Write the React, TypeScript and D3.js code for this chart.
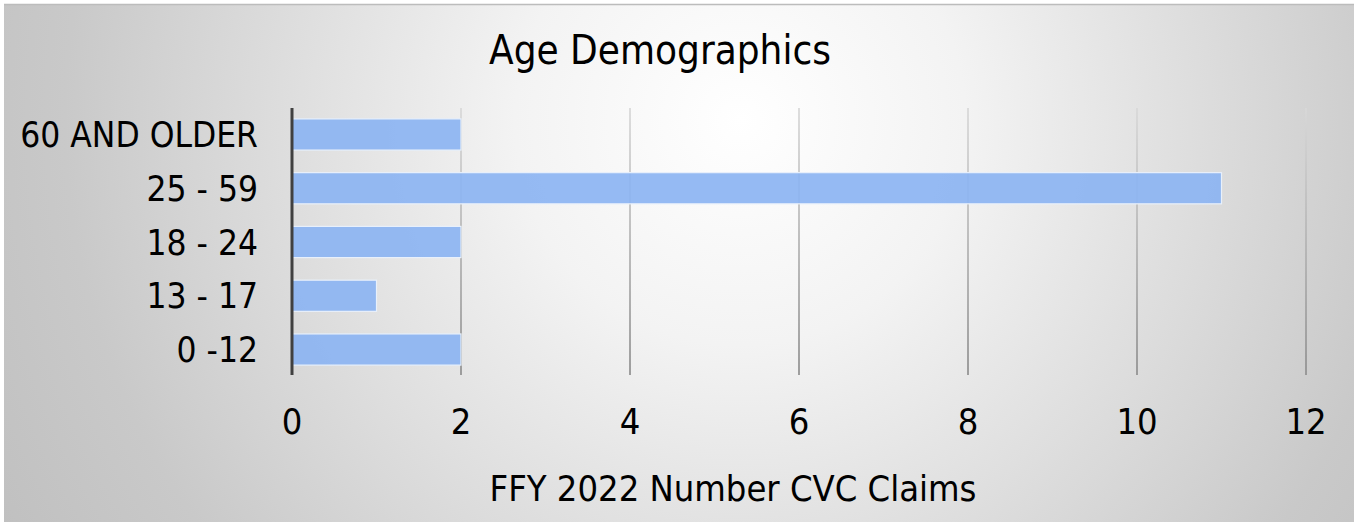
import React from 'react';
import * as d3 from 'd3';

// Age groups, top to bottom as shown
const ageGroups = ['60 AND OLDER', '25 - 59', '18 - 24', '13 - 17', '0 -12'];
const claimCounts = [2, 11, 2, 1, 2];
const xTicks = [0, 2, 4, 6, 8, 10, 12];

const chartTitle = 'Age Demographics';
const xAxisTitle = 'FFY 2022 Number CVC Claims';

const W = 1354;
const H = 522;
const FONT = '"DejaVu Sans Condensed", "DejaVu Sans", sans-serif';

const App: React.FC = () => {
  const x = d3.scaleLinear().domain([0, 12]).range([292, 1306]);
  const y = d3
    .scaleBand<string>()
    .domain(ageGroups)
    .range([107.6, 376.4])
    .paddingInner(0.42)
    .paddingOuter(0.21);

  const gridTop = 108;
  const gridBottom = 375;

  return (
    <div style={{ position: 'fixed', left: 0, top: 0, width: W, height: H, background: '#fff' }}>
      <svg width={W} height={H} style={{ display: 'block' }}>
        <defs>
          <radialGradient id="bg" cx="740" cy="120" r="900" gradientUnits="userSpaceOnUse">
            <stop offset="0" stopColor="#ffffff" />
            <stop offset="0.25" stopColor="#f3f3f3" />
            <stop offset="0.75" stopColor="#c9c9c9" />
            <stop offset="1" stopColor="#bdbdbd" />
          </radialGradient>
          <linearGradient id="grid" x1="0" y1="0" x2="0" y2="1">
            <stop offset="0" stopColor="#d8d8d8" />
            <stop offset="1" stopColor="#8f8f8f" />
          </linearGradient>
        </defs>

        <rect x={4} y={4} width={W - 4} height={H - 4} fill="url(#bg)" />
        <line x1={4} x2={W} y1={4.5} y2={4.5} stroke="#bcbcbc" strokeWidth={1.5} />

        {/* grid */}
        {xTicks.slice(1).map((t) => (
          <rect
            key={t}
            x={x(t) - 1}
            y={gridTop}
            width={2}
            height={gridBottom - gridTop}
            fill="url(#grid)"
            opacity={0.85}
          />
        ))}

        {/* bars */}
        {ageGroups.map((g, i) => (
          <rect
            key={g}
            x={x(0)}
            y={y(g)!}
            width={x(claimCounts[i]) - x(0)}
            height={y.bandwidth()}
            fill="#8cb4f2"
            fillOpacity={0.92}
            stroke="#e8f0fb"
            strokeWidth={1.2}
          />
        ))}

        {/* axis line */}
        <line x1={x(0)} x2={x(0)} y1={gridTop} y2={gridBottom} stroke="#404040" strokeWidth={3} />

        {/* y labels */}
        {ageGroups.map((g) => (
          <text
            key={g}
            x={258}
            y={y(g)! + y.bandwidth() / 2}
            dy="0.36em"
            textAnchor="end"
            fontFamily={FONT}
            fontSize={35}
            fill="#000"
          >
            {g}
          </text>
        ))}

        {/* x labels */}
        {xTicks.map((t) => (
          <text
            key={t}
            x={x(t)}
            y={434}
            textAnchor="middle"
            fontFamily={FONT}
            fontSize={36}
            fill="#000"
          >
            {t}
          </text>
        ))}

        <text x={660} y={64} textAnchor="middle" fontFamily={FONT} fontSize={40} fill="#000">
          {chartTitle}
        </text>
        <text x={733} y={501} textAnchor="middle" fontFamily={FONT} fontSize={36} fill="#000">
          {xAxisTitle}
        </text>
      </svg>
    </div>
  );
};

export default App;
